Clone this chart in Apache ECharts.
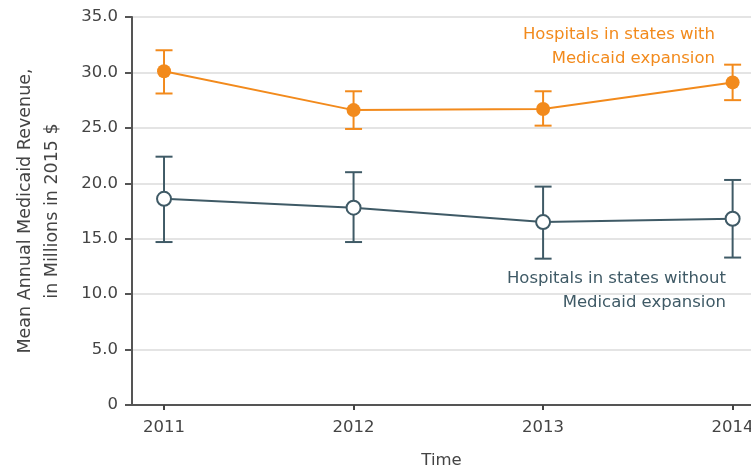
<!DOCTYPE html>
<html>
<head>
<meta charset="utf-8">
<script src="https://cdn.jsdelivr.net/npm/echarts@6/dist/echarts.min.js"></script>
<style>
  html, body { margin: 0; padding: 0; background: #fff; }
  #chart { width: 751px; height: 471px; }
</style>
</head>
<body>
<div id="chart"></div>
<script>
// Years on the x axis
const years = [2011, 2012, 2013, 2014];

// Hospitals in states with Medicaid expansion (mean and 95% CI, millions of 2015 $)
const expansionMean  = [30.1, 26.6, 26.7, 29.1];
const expansionLower = [28.1, 24.9, 25.2, 27.5];
const expansionUpper = [32.0, 28.3, 28.3, 30.7];

// Hospitals in states without Medicaid expansion
const nonExpansionMean  = [18.6, 17.8, 16.5, 16.8];
const nonExpansionLower = [14.7, 14.7, 13.2, 13.3];
const nonExpansionUpper = [22.4, 21.0, 19.7, 20.3];

// Series captions, one entry per line
const expansionCaption = ['Hospitals in states with', 'Medicaid expansion'];
const nonExpansionCaption = ['Hospitals in states without', 'Medicaid expansion'];

const ORANGE = '#f28a1c';
const SLATE = '#3f5a66';
const TEXT = '#444';
const FONT = 'DejaVu Sans';

const chart = echarts.init(document.getElementById('chart'), null, { renderer: 'canvas' });

function pairs(xs, ys) { return xs.map((x, i) => [x, ys[i]]); }
function ciData(xs, lo, hi) { return xs.map((x, i) => [x, lo[i], hi[i]]); }

// Vertical error bars with end caps
function errorBarSeries(data, color) {
  return {
    type: 'custom',
    z: 1,
    data: data,
    silent: true,
    renderItem: function (params, api) {
      const x = api.value(0);
      const lo = api.coord([x, api.value(1)]);
      const hi = api.coord([x, api.value(2)]);
      const half = 8.5;
      const style = { stroke: color, lineWidth: 2 };
      return {
        type: 'group',
        children: [
          { type: 'line', shape: { x1: lo[0], y1: lo[1], x2: hi[0], y2: hi[1] }, style: style },
          { type: 'line', shape: { x1: lo[0] - half, y1: lo[1], x2: lo[0] + half, y2: lo[1] }, style: style },
          { type: 'line', shape: { x1: hi[0] - half, y1: hi[1], x2: hi[0] + half, y2: hi[1] }, style: style }
        ]
      };
    }
  };
}

// Right-aligned caption lines
function caption(lines, rightX, firstY, color) {
  return lines.map((t, i) => ({
    type: 'text',
    x: rightX,
    y: firstY + i * 24,
    z: 10,
    silent: true,
    style: {
      text: t,
      fill: color,
      font: '16.5px "DejaVu Sans"',
      align: 'right',
      verticalAlign: 'middle'
    }
  }));
}

const option = {
  animation: false,
  backgroundColor: '#fff',
  textStyle: { fontFamily: FONT },
  grid: { left: 132, right: 0, top: 17, bottom: 66, containLabel: false, outerBoundsMode: 'none' },
  xAxis: {
    type: 'value',
    min: 2010.831,
    max: 2014.097,
    name: 'Time',
    nameLocation: 'middle',
    nameGap: 47,
    nameTextStyle: { fontFamily: FONT, fontSize: 16.5, color: TEXT },
    axisLine: { show: true, lineStyle: { color: '#555', width: 2 } },
    axisTick: { show: true, customValues: years, length: 5, lineStyle: { color: TEXT, width: 2 } },
    axisLabel: {
      customValues: years,
      formatter: v => String(v),
      fontFamily: FONT, fontSize: 16.5, color: TEXT, margin: 14
    },
    splitLine: { show: false }
  },
  yAxis: {
    type: 'value',
    min: 0,
    max: 35,
    interval: 5,
    name: 'Mean Annual Medicaid Revenue,\nin Millions in 2015 $',
    nameLocation: 'middle',
    nameGap: 66,
    nameRotate: 90,
    nameTextStyle: { fontFamily: FONT, fontSize: 17.5, color: TEXT, lineHeight: 27, align: 'center' },
    axisLine: { show: true, lineStyle: { color: '#555', width: 2 } },
    axisTick: { show: true, length: 7, lineStyle: { color: '#555', width: 2 } },
    axisLabel: {
      formatter: v => (v === 0 ? '0' : v.toFixed(1)),
      fontFamily: FONT, fontSize: 16.5, color: TEXT, margin: 14
    },
    splitLine: { show: true, lineStyle: { color: '#e4e4e4', width: 2 } }
  },
  series: [
    errorBarSeries(ciData(years, expansionLower, expansionUpper), ORANGE),
    errorBarSeries(ciData(years, nonExpansionLower, nonExpansionUpper), SLATE),
    {
      type: 'line',
      z: 3,
      data: pairs(years, expansionMean),
      symbol: 'circle',
      symbolSize: 14,
      lineStyle: { color: ORANGE, width: 2 },
      itemStyle: { color: ORANGE, borderColor: ORANGE, borderWidth: 0 }
    },
    {
      type: 'line',
      z: 3,
      data: pairs(years, nonExpansionMean),
      symbol: 'circle',
      symbolSize: 14,
      lineStyle: { color: SLATE, width: 2 },
      itemStyle: { color: '#fff', borderColor: SLATE, borderWidth: 2 }
    }
  ],
  graphic: [].concat(
    caption(expansionCaption, 715, 35, ORANGE),
    caption(nonExpansionCaption, 726, 279, SLATE)
  )
};

chart.setOption(option);
</script>
</body>
</html>
